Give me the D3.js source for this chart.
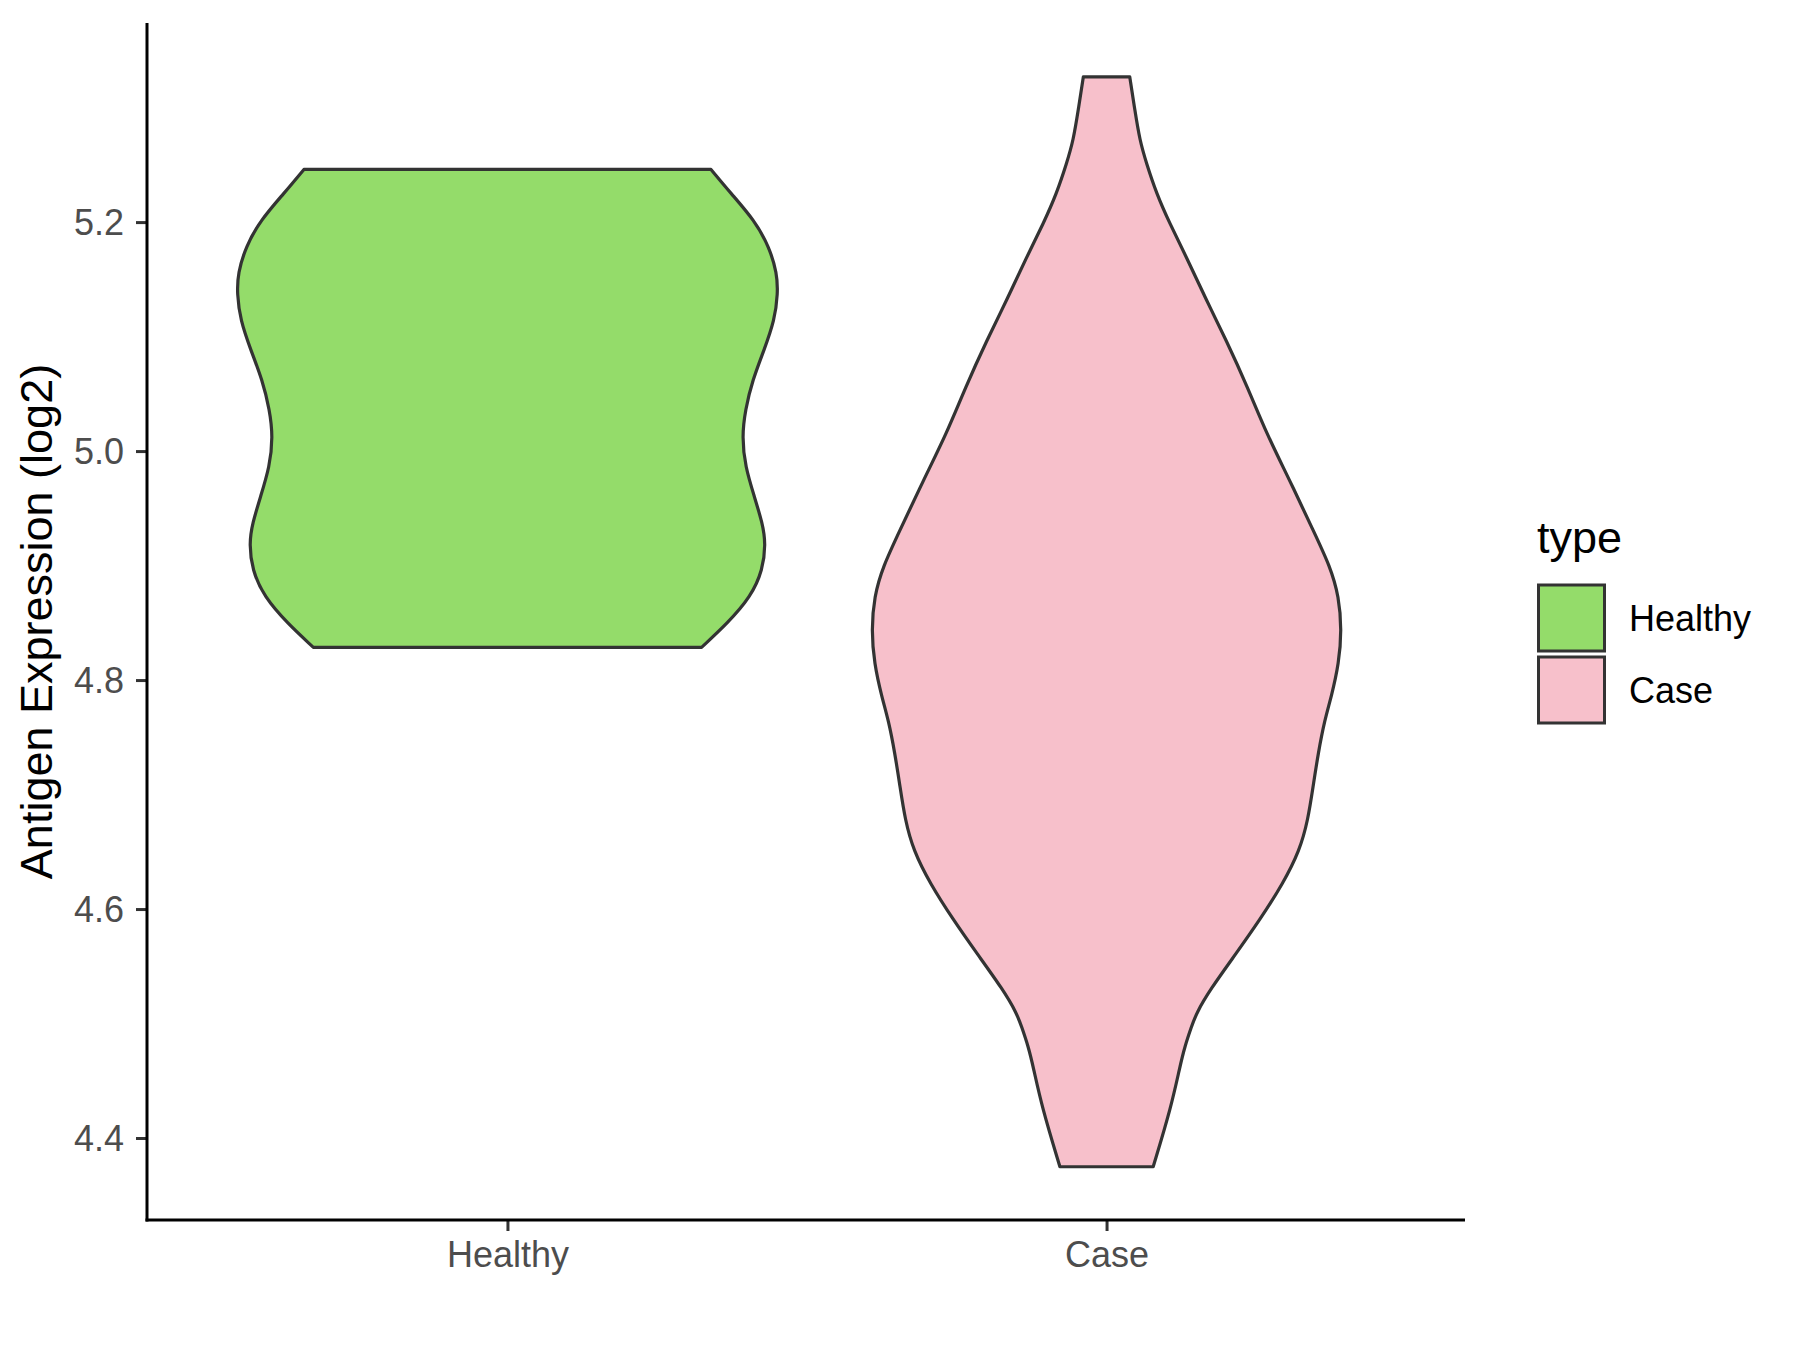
<!DOCTYPE html>
<html>
<head>
<meta charset="utf-8">
<script src="https://cdn.jsdelivr.net/npm/d3@7"></script>
<style>
  html, body { margin: 0; padding: 0; background: #ffffff; }
  svg { display: block; }
  text { font-family: "Liberation Sans", Arial, Helvetica, sans-serif; }
</style>
</head>
<body>
<svg id="chart" width="1800" height="1350"></svg>
<script>
// ---- data ----
const categories = ["Healthy", "Case"];
const fillColors = ["#94DC6A", "#F7C0CB"];
const yTicks = [4.4, 4.6, 4.8, 5.0, 5.2];
const yLabel = "Antigen Expression (log2)";
const legendTitle = "type";

// violin outline: expression value and relative density (half-width, 1 = widest)
const healthyValues  = [5.2460, 5.2251, 5.2017, 5.1784, 5.1552, 5.1377, 5.1144, 5.0882, 5.0620, 5.0358, 5.0125, 4.9863, 4.9601, 4.9369, 4.9194, 4.8961, 4.8728, 4.8495, 4.8286];
const healthyDensity = [0.755, 0.829, 0.916, 0.971, 1.000, 1.003, 0.991, 0.952, 0.909, 0.882, 0.870, 0.882, 0.916, 0.946, 0.958, 0.947, 0.903, 0.816, 0.720];

const caseValues  = [5.3269, 5.2978, 5.2716, 5.2513, 5.2251, 5.1989, 5.1697, 5.1319, 5.0969, 5.0548, 5.0155, 4.9747, 4.9310, 4.8990, 4.8728, 4.8437, 4.8146, 4.7854, 4.7651, 4.7360, 4.7068, 4.6777, 4.6515, 4.6224, 4.5904, 4.5616, 4.5293, 4.5089, 4.4972, 4.4797, 4.4623, 4.4273, 4.3749];
const caseDensity = [0.086, 0.105, 0.123, 0.148, 0.185, 0.234, 0.296, 0.370, 0.444, 0.525, 0.593, 0.679, 0.766, 0.830, 0.862, 0.872, 0.862, 0.834, 0.809, 0.785, 0.766, 0.747, 0.717, 0.655, 0.568, 0.482, 0.383, 0.333, 0.315, 0.290, 0.272, 0.240, 0.173];

const seriesValues = [healthyValues, caseValues];
const seriesDensity = [healthyDensity, caseDensity];

// ---- layout ----
const svg = d3.select("#chart");
const panel = { left: 147, right: 1465, top: 23, bottom: 1220 };

const x = d3.scalePoint().domain(categories).range([panel.left + 1, panel.right + 1]).padding(0.6);
const y = d3.scaleLinear().domain([4.3284, 5.3739]).range([panel.bottom, panel.top]);
const halfW = x.step() * 0.45;

// violins
categories.forEach((cat, i) => {
  const pts = seriesValues[i].map((v, j) => ({ v, d: seriesDensity[i][j] }));
  const area = d3.area()
    .y(p => y(p.v))
    .x0(p => x(cat) - p.d * halfW)
    .x1(p => x(cat) + p.d * halfW)
    .curve(d3.curveBasis);
  svg.append("path")
    .datum(pts)
    .attr("d", area)
    .attr("fill", fillColors[i])
    .attr("stroke", "#333333")
    .attr("stroke-width", 3.2)
    .attr("stroke-linejoin", "round");
});

// axes
const yAxis = d3.axisLeft(y).tickValues(yTicks).tickFormat(d3.format(".1f")).tickSize(11).tickSizeOuter(0).tickPadding(12);
const gy = svg.append("g").attr("transform", `translate(${panel.left},0)`).call(yAxis);
gy.select(".domain").remove();
gy.selectAll(".tick line").attr("stroke", "#333333").attr("stroke-width", 3);
gy.selectAll(".tick text").attr("fill", "#4D4D4D").style("font-size", "36px").attr("dy", "0.35em");

const xAxis = d3.axisBottom(x).tickSize(11).tickSizeOuter(0).tickPadding(8);
const gx = svg.append("g").attr("transform", `translate(0,${panel.bottom})`).call(xAxis);
gx.select(".domain").remove();
gx.selectAll(".tick line").attr("stroke", "#333333").attr("stroke-width", 3);
gx.selectAll(".tick text").attr("fill", "#4D4D4D").style("font-size", "36px").attr("dy", "0.78em");

// axis lines
svg.append("line").attr("x1", panel.left).attr("x2", panel.left).attr("y1", panel.top).attr("y2", panel.bottom + 1.5)
  .attr("stroke", "#000").attr("stroke-width", 3);
svg.append("line").attr("x1", panel.left - 1.5).attr("x2", panel.right).attr("y1", panel.bottom).attr("y2", panel.bottom)
  .attr("stroke", "#000").attr("stroke-width", 3);

// y title
svg.append("text")
  .attr("transform", `translate(52,${(panel.top + panel.bottom) / 2}) rotate(-90)`)
  .attr("text-anchor", "middle")
  .attr("fill", "#000")
  .style("font-size", "45px")
  .text(yLabel);

// legend
const lg = svg.append("g").attr("transform", "translate(1537,0)");
lg.append("text").attr("x", 0).attr("y", 553).style("font-size", "45px").attr("fill", "#000").text(legendTitle);
categories.forEach((cat, i) => {
  const top = 585 + i * 72;
  lg.append("rect").attr("x", 1.5).attr("y", top).attr("width", 66).attr("height", 66)
    .attr("fill", fillColors[i]).attr("stroke", "#333333").attr("stroke-width", 3);
  lg.append("text").attr("x", 92).attr("y", top + 33).attr("dy", "0.35em")
    .style("font-size", "36px").attr("fill", "#000").text(cat);
});
</script>
</body>
</html>
